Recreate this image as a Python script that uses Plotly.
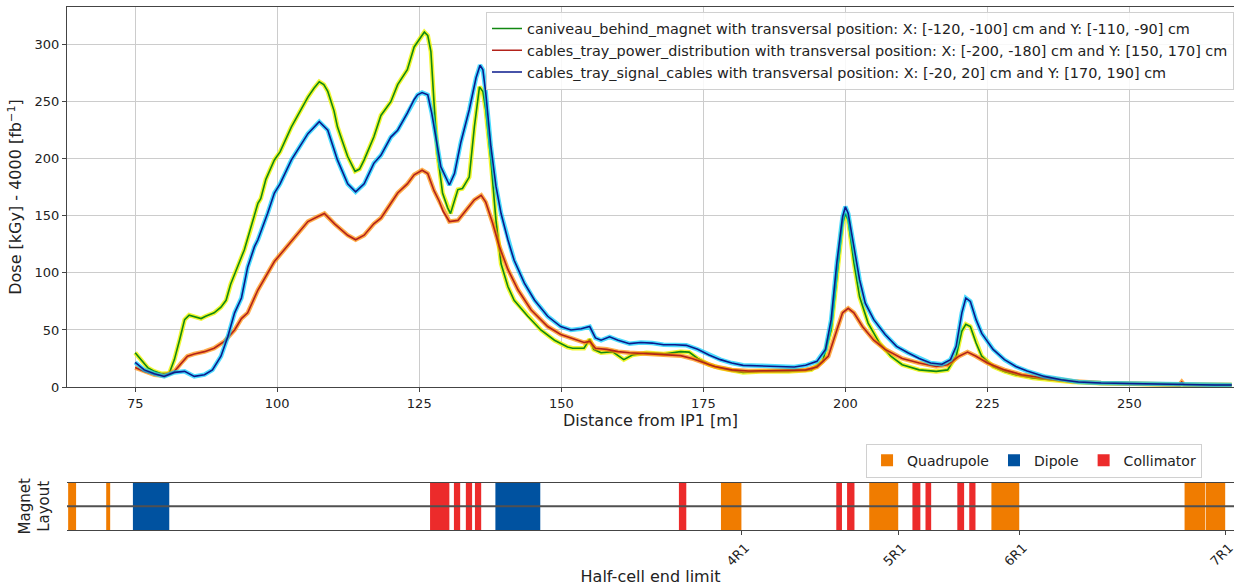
import plotly.graph_objects as go

# ---------------- data ----------------
green_x = [75, 76, 77.2, 78.4, 79.6, 81, 81.9, 82.8, 83.7, 84.5, 85.4, 86.6, 87.4, 88.9, 90.1, 91, 91.8, 93,
           93.7, 94.2, 95.3, 96.6, 97.1, 98, 99.5, 100.5, 102.5, 104, 105.4, 106.5, 107.4, 108.2, 108.9, 110,
           110.6, 111.5, 112.4, 113.7, 114.5, 115.3, 117, 118.25, 120, 121.2, 122.9, 124.1, 125, 125.9, 126.5,
           127.05, 127.6, 128.2, 129.1, 130, 130.5, 131.2, 131.8, 132.6, 133.8, 134.7, 135.6, 136.2, 136.7,
           137.6, 138.5, 139.4, 140.6, 141.7, 144.1, 146.4, 148.8, 151.1, 152, 154, 155, 155.7, 157, 159, 161,
           162.5, 165, 168, 171, 172.5, 174, 176, 178, 180, 182, 185, 190, 194, 196, 197.5, 198.5, 199.5, 200,
           200.5, 201.5, 202.5, 204, 206, 208, 210, 213, 216, 218, 219.5, 220.5, 221.2, 222, 223, 224, 226, 228,
           230, 233, 236, 240, 245, 250, 260, 268]
green_y = [30, 24, 17, 13.7, 11.7, 12, 24, 41, 59, 63, 62, 60, 62, 65, 70, 76, 90, 106,
           114, 120, 138, 161, 165, 182, 199, 206, 228, 242, 254, 262, 267.5, 265, 259, 242,
           228, 215, 202, 189, 191, 199, 219, 238, 250, 265, 278, 298, 304, 311, 308,
           294, 249, 205, 170, 157, 152, 164, 173, 174, 184, 228, 263, 259, 243,
           199, 146, 108, 88, 76, 62, 50, 41, 35, 34, 34, 42, 33, 30, 31, 24,
           28, 30, 29, 31, 30.6, 25, 19.5, 16.6, 14.6, 12.8, 13.7, 13.7, 15, 22.5, 50, 94, 143, 152,
           146, 109, 79, 56, 38.5, 27, 19.5, 15, 13.7, 15, 27, 49, 55, 53, 38.5, 27, 18, 13.7,
           10.8, 7.9, 6.4, 4.4, 3.2, 2.6, 2, 1.7]

red_x = [75, 76.6, 78.4, 80.1, 81.9, 83.1, 84.2, 85.4, 87.2, 88.9, 90.7, 92.5, 93.7, 94.8, 96.6, 99.5, 102.5,
         105.4, 107, 108.3, 110.1, 112.4, 113.8, 115.3, 117, 118.25, 120, 121.2, 122.9, 124.1, 125.5, 126.5,
         127.6, 128.5, 129.2, 130.3, 131.8, 133.2, 134.7, 135.9, 136.7, 137.9, 139.1, 140.6, 142.4, 144.7,
         147.6, 149.9, 152.3, 154, 155, 156, 158, 160, 162, 165, 168, 171, 173, 175, 177, 180, 183, 186, 190,
         193, 195, 197, 198.5, 199.5, 200.5, 201.5, 203, 205, 207, 210, 213, 216, 218, 220, 221.5, 223, 225,
         228, 231, 235, 240, 245, 250, 255, 258.8, 259.2, 259.6, 262, 268]
red_y = [17, 13.7, 10.8, 10, 13.7, 21, 27, 29, 31, 34, 40, 50, 60, 65, 85, 110, 128,
         145, 149, 152, 143, 133, 129, 133, 143, 148, 161, 170, 178, 186, 190, 187,
         172, 163, 154, 145, 146, 155, 164, 168, 162, 144, 123, 103, 85, 67.5,
         53, 46, 42, 39, 40, 34, 33, 31, 30, 29, 28, 27.5, 25, 21.6, 18, 15, 14, 14.3, 14.6,
         15, 17.5, 27, 50, 65, 69, 65, 53, 41, 33, 25, 21, 18, 19.5, 27, 30.6, 27, 21,
         15, 10.8, 7.9, 5, 3.5, 2.9, 2.3, 2.1, 4.5, 2.1, 2, 1.7]

blue_x = [75, 76.6, 78.4, 80.1, 81.9, 83.7, 85.4, 87.2, 88.6, 90.1, 91.3, 92.5, 93.7, 94.8, 96, 96.6, 98.3,
          99.5, 100.5, 102.5, 105.4, 107.4, 108.9, 110.6, 112.4, 113.8, 115.3, 117, 118.25, 120, 121.2, 122.9,
          124.1, 124.7, 125.5, 126.5, 127.2, 128, 128.8, 130.3, 131.2, 132.3, 133.8, 135, 135.7, 136.2, 136.7,
          137.6, 138.5, 139.4, 140.6, 141.7, 143.5, 145.3, 147.6, 149.9, 151.7, 153.5, 155, 156, 157, 158.5,
          160, 162, 164, 166, 168, 170, 172, 174, 176, 178, 180, 182, 185, 188, 191, 193, 195, 196.5, 197.5,
          198.5, 199.5, 200, 200.5, 201.5, 202.5, 203.5, 205, 207, 209, 211, 213, 215, 217, 218.5, 219.5,
          220.5, 221.2, 222, 223, 224, 226, 228, 230, 232, 235, 238, 241, 245, 250, 255, 260, 265, 268]
blue_y = [21.6, 15, 11.7, 9.3, 12.8, 13.7, 9.3, 10.8, 15, 27, 44, 65, 78, 105, 123, 129, 152,
          170, 178, 199, 222, 232.5, 225, 199, 178, 171, 178, 196, 203, 219, 225, 240,
          252, 256, 258, 256, 240, 218, 193, 177, 187, 214, 243, 271, 282, 278, 258,
          211, 176, 152, 129, 111, 91, 76, 62, 53, 50, 51, 53, 43, 41, 44,
          41, 38, 39, 38.5, 37, 37, 36.5, 33, 28, 24, 21, 19, 18.7, 18, 17.5, 19, 22.5, 33, 59,
          109, 149, 158, 152, 123, 94, 73.5, 59, 46, 35.6, 30, 25, 21, 20, 24, 35.6,
          65, 78, 75, 59, 47, 33, 24, 18, 14, 9.3, 6.4, 4.4, 3.5, 2.9, 2.3, 2, 1.7, 1.7]

series_names = [
    "caniveau_behind_magnet with transversal position: X: [-120, -100] cm and Y: [-110, -90] cm",
    "cables_tray_power_distribution with transversal position: X: [-200, -180] cm and Y: [150, 170] cm",
    "cables_tray_signal_cables with transversal position: X: [-20, 20] cm and Y: [170, 190] cm",
]

# magnet layout (start, end) in m
quad_start = [63.2, 69.9, 178.1, 204.2, 225.7, 259.7, 263.45]
quad_end = [64.6, 70.6, 181.7, 209.3, 230.6, 263.35, 266.85]
dipole_start = [74.6, 138.4]
dipole_end = [81.0, 146.3]
coll_start = [126.9, 131.1, 133.2, 134.8, 170.7, 198.4, 200.3, 211.8, 214.1, 219.7, 221.8]
coll_end = [130.3, 132.2, 134.3, 135.9, 172.0, 199.4, 201.6, 213.2, 215.1, 220.9, 222.9]

halfcell_pos = [181.7, 209.3, 230.6, 266.85]
halfcell_labels = ["4R1", "5R1", "6R1", "7R1"]

# ---------------- figure ----------------
FONT = "DejaVu Sans"
fig = go.Figure()

styles = [
    (green_x, green_y, "#118811", "rgba(238,245,0,0.8)"),
    (red_x, red_y, "#b3221a", "rgba(255,140,0,0.7)"),
    (blue_x, blue_y, "#0a1a8c", "rgba(0,205,255,0.7)"),
]
for (xs, ys, lc, hc), name in zip(styles, series_names):
    fig.add_trace(go.Scatter(x=xs, y=ys, mode="lines", line=dict(color=hc, width=4.5),
                             showlegend=False, hoverinfo="skip", xaxis="x", yaxis="y"))
    fig.add_trace(go.Scatter(x=xs, y=ys, mode="lines", line=dict(color=lc, width=1.6),
                             name=name, xaxis="x", yaxis="y", legend="legend"))


def add_magnets(starts, ends, name, color):
    centers = [(a + b) / 2 for a, b in zip(starts, ends)]
    widths = [b - a for a, b in zip(starts, ends)]
    fig.add_trace(go.Bar(x=centers, y=[1] * len(centers), width=widths, base=0,
                         marker=dict(color=color, line=dict(width=0)), name=name,
                         xaxis="x2", yaxis="y2", legend="legend2"))


add_magnets(quad_start, quad_end, "Quadrupole", "#f07c00")
add_magnets(dipole_start, dipole_end, "Dipole", "#0052a0")
add_magnets(coll_start, coll_end, "Collimator", "#ec2b2b")

xr = [63.0, 268.4]
axis_line = "#444444"
grid = "#cccccc"

fig.update_layout(
    width=1234, height=586,
    margin=dict(l=67, r=0, t=7, b=56, autoexpand=False),
    paper_bgcolor="white", plot_bgcolor="white",
    font=dict(family=FONT, size=13, color="#222222"),
    barmode="overlay",
    xaxis=dict(domain=[0, 1], range=xr, anchor="y", automargin=False,
               tickvals=[75, 100, 125, 150, 175, 200, 225, 250],
               showgrid=True, gridcolor=grid, gridwidth=1,
               showline=True, linecolor=axis_line, linewidth=1, mirror=True,
               ticks="outside", ticklen=4, tickcolor=axis_line,
               tickfont=dict(size=13),
               title=dict(text="Distance from IP1 [m]", font=dict(size=16), standoff=4),
               zeroline=False),
    yaxis=dict(domain=[0.2734, 1], range=[0, 333], anchor="x", automargin=False,
               tickvals=[0, 50, 100, 150, 200, 250, 300],
               showgrid=True, gridcolor=grid, gridwidth=1,
               showline=True, linecolor=axis_line, linewidth=1,
               ticks="outside", ticklen=4, tickcolor=axis_line,
               tickfont=dict(size=13),
               title=dict(text="Dose [kGy] - 4000 [fb<sup>−1</sup>]", font=dict(size=16), standoff=8),
               zeroline=False),
    xaxis2=dict(domain=[0, 1], range=xr, anchor="y2", automargin=False,
                tickvals=halfcell_pos, ticktext=halfcell_labels, tickangle=-45,
                ticklabelshift=4, ticklabeloverflow="allow",
                showgrid=False, zeroline=False,
                showline=True, linecolor=axis_line, linewidth=1.2, mirror=True,
                ticks="outside", ticklen=4, tickcolor=axis_line,
                tickfont=dict(size=13),
                title=dict(text="Half-cell end limit", font=dict(size=16), standoff=6)),
    yaxis2=dict(domain=[0, 0.0904], range=[0, 1], anchor="x2", automargin=False,
                showticklabels=False, ticks="", showgrid=False, zeroline=False, showline=False,
                title=dict(text="Magnet<br>Layout", font=dict(size=15), standoff=12)),
    legend=dict(x=1, xanchor="right", y=0.991, yanchor="top",
                bgcolor="rgba(255,255,255,0.85)", bordercolor="#d0d0d0", borderwidth=1,
                font=dict(size=14.4), tracegroupgap=0),
    legend2=dict(orientation="h", x=0.6847, xanchor="left", y=0.1, yanchor="bottom",
                 bgcolor="rgba(255,255,255,0.9)", bordercolor="#d0d0d0", borderwidth=1,
                 font=dict(size=14)),
    shapes=[dict(type="line", xref="x2 domain", yref="y2", x0=0, x1=1, y0=0.5, y1=0.5,
                 line=dict(color="#505050", width=2), layer="above")],
)

fig.write_html("out.html")
